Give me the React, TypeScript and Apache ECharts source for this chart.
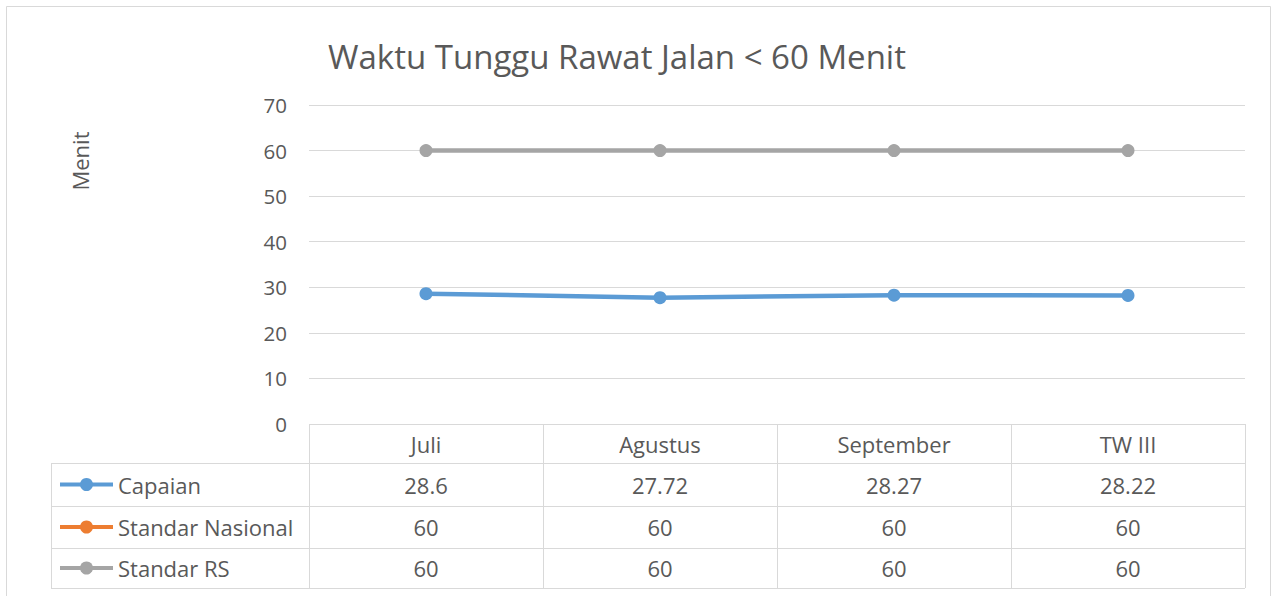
import React, { useEffect, useRef } from "react";
import * as echarts from "echarts";

const categories = ["Juli", "Agustus", "September", "TW III"];
const capaian = [28.6, 27.72, 28.27, 28.22];
const standarNasional = [60, 60, 60, 60];
const standarRS = [60, 60, 60, 60];
const seriesNames = ["Capaian", "Standar Nasional", "Standar RS"];
const seriesColors = ["#5b9bd5", "#ed7d31", "#a5a5a5"];
const yTicks = { min: 0, max: 70, interval: 10 };

const W = 1281;
const H = 596;
const FONT = "'Open Sans', 'Noto Sans', sans-serif";
const TXT = "#595959";
const BORDER = "#d9d9d9";

export default function App() {
  const ref = useRef<HTMLDivElement>(null);
  useEffect(() => {
    if (!ref.current) return;
    const chart = echarts.init(ref.current, undefined, { renderer: "svg" });
    const gridL = 309, gridR = 1245, gridT = 105, gridB = 424;
    const tableL = 51;
    const rowY = [424, 463, 506, 548, 588];
    const colW = (gridR - gridL) / categories.length;
    const values = [capaian, standarNasional, standarRS];
    const TF = 22;

    const g: any[] = [];
    g.push({
      type: "rect",
      shape: { x: 6.5, y: 6.5, width: 1264, height: 620 },
      style: { fill: "none", stroke: BORDER, lineWidth: 1 },
      silent: true,
    });
    g.push({ type: "line", shape: { x1: gridL, y1: rowY[0] + 0.5, x2: gridR, y2: rowY[0] + 0.5 }, style: { stroke: BORDER, lineWidth: 1 } });
    for (let i = 1; i < rowY.length; i++) {
      g.push({ type: "line", shape: { x1: tableL, y1: rowY[i] + 0.5, x2: gridR, y2: rowY[i] + 0.5 }, style: { stroke: BORDER, lineWidth: 1 } });
    }
    g.push({ type: "line", shape: { x1: tableL + 0.5, y1: rowY[1], x2: tableL + 0.5, y2: rowY[4] }, style: { stroke: BORDER, lineWidth: 1 } });
    for (let c = 0; c <= categories.length; c++) {
      const x = Math.round(gridL + c * colW) + 0.5;
      g.push({ type: "line", shape: { x1: x, y1: rowY[0], x2: x, y2: rowY[4] }, style: { stroke: BORDER, lineWidth: 1 } });
    }
    categories.forEach((cat, c) => {
      g.push({
        type: "text",
        x: gridL + (c + 0.5) * colW,
        y: (rowY[0] + rowY[1]) / 2,
        style: { text: cat, fill: TXT, font: `${TF}px ${FONT}`, align: "center", verticalAlign: "middle" },
      });
    });
    seriesNames.forEach((name, r) => {
      const cy = (rowY[r + 1] + rowY[r + 2]) / 2;
      g.push({ type: "line", shape: { x1: 60, y1: cy, x2: 113, y2: cy }, style: { stroke: seriesColors[r], lineWidth: 4 } });
      g.push({ type: "circle", shape: { cx: 86.5, cy, r: 6.5 }, style: { fill: seriesColors[r] } });
      g.push({
        type: "text",
        x: 118,
        y: cy,
        style: { text: name, fill: TXT, font: `${TF}px ${FONT}`, align: "left", verticalAlign: "middle" },
      });
      values[r].forEach((v, c) => {
        g.push({
          type: "text",
          x: gridL + (c + 0.5) * colW,
          y: cy,
          style: { text: String(v), fill: TXT, font: `${TF}px ${FONT}`, align: "center", verticalAlign: "middle" },
        });
      });
    });
    g.push({
      type: "text",
      x: 80,
      y: 161,
      rotation: Math.PI / 2,
      style: { text: "Menit", fill: TXT, font: `${TF}px ${FONT}`, align: "center", verticalAlign: "middle" },
    });

    chart.setOption({
      animation: false,
      backgroundColor: "#ffffff",
      title: {
        text: "Waktu Tunggu Rawat Jalan < 60 Menit",
        left: 612,
        top: 35,
        textAlign: "center",
        textStyle: { fontFamily: FONT, fontSize: 33, fontWeight: "normal", color: TXT },
      },
      grid: { left: gridL, right: W - gridR, top: gridT, bottom: H - gridB },
      xAxis: {
        type: "category",
        data: categories,
        boundaryGap: true,
        axisLine: { show: false },
        axisTick: { show: false },
        axisLabel: { show: false },
      },
      yAxis: {
        type: "value",
        min: yTicks.min,
        max: yTicks.max,
        interval: yTicks.interval,
        axisLine: { show: false },
        axisTick: { show: false },
        axisLabel: { color: TXT, fontFamily: FONT, fontSize: 20.5, margin: 22 },
        splitLine: { lineStyle: { color: BORDER, width: 1 } },
      },
      series: seriesNames.map((name, i) => ({
        name,
        type: "line",
        data: values[i],
        symbol: "circle",
        symbolSize: i === 1 ? 11 : 13,
        lineStyle: { color: seriesColors[i], width: i === 1 ? 3 : 4.5 },
        itemStyle: { color: seriesColors[i] },
        z: 2 + i,
      })),
      graphic: g,
    });
    return () => chart.dispose();
  }, []);
  return <div ref={ref} style={{ position: "absolute", left: 0, top: 0, width: W, height: H }} />;
}
